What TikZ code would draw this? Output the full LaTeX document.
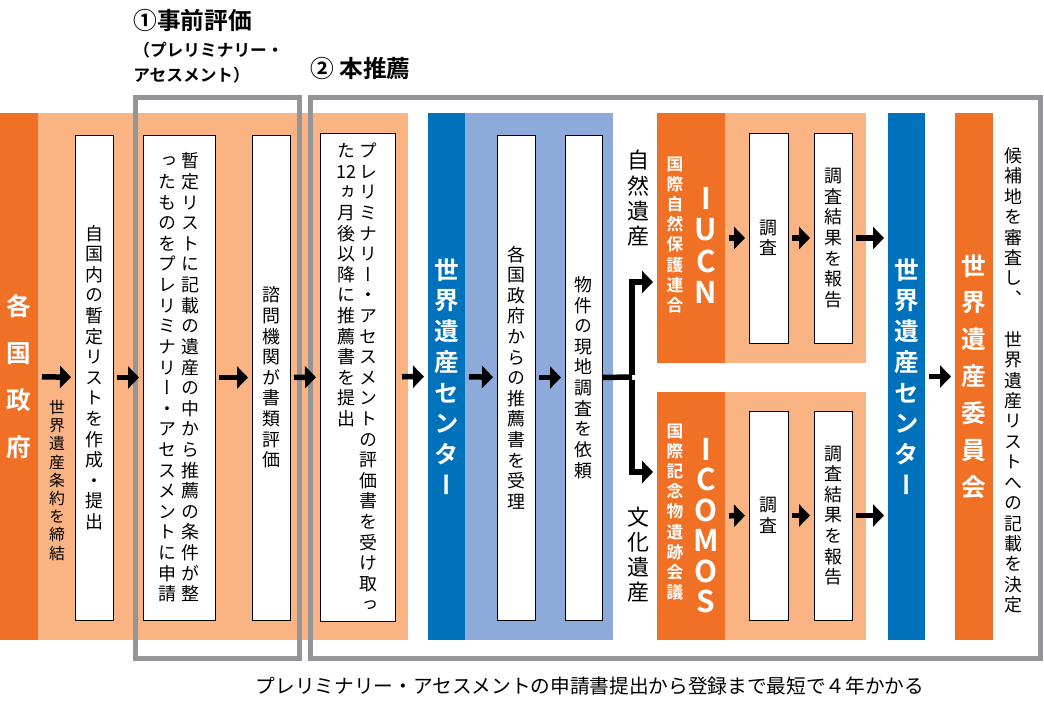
\documentclass[tikz,border=0pt]{standalone}
\usepackage{fontspec}
\usepackage{tikz}
\usetikzlibrary{arrows.meta}
\setmainfont{Noto Sans CJK JP}[BoldFont={Noto Sans CJK JP Bold}]
\newfontfamily\vjp[RawFeature=+vert]{Noto Sans CJK JP}
\newfontfamily\vjpb[RawFeature=+vert]{Noto Sans CJK JP Bold}
\definecolor{darkOrange}{HTML}{F07125}
\definecolor{lightOrange}{HTML}{FAB382}
\definecolor{darkBlue}{HTML}{0071BB}
\definecolor{lightBlue}{HTML}{8DAADA}
\definecolor{frameGray}{HTML}{939598}
\newlength{\vpitch}
\ExplSyntaxOn
\NewDocumentCommand{\vcol}{O{1.15em}m}{
  \vtop{\setlength{\vpitch}{#1}\baselineskip=\vpitch\lineskiplimit=-20pt\lineskip=0pt
    \tl_map_inline:nn{#2}{\hbox to 1.2em{\hss##1\hss}}}}
\ExplSyntaxOff
\newcommand{\twocol}[2]{\hbox{\vcol{#1}\kern0.05em\vcol{#2}}}
% block from (x1,y1) to (x2,y2), in pixels of the reference
\newcommand{\blk}[7]{\node[#6, minimum width={(#4-#2)*0.02cm}, minimum height={(#5-#3)*0.02cm}] (#1) at ({(#2+#4)/2},{(#3+#5)/2}) {#7};}

\begin{document}
\begin{tikzpicture}[x=0.02cm, y=-0.02cm]
  \tikzset{
    band/.style={inner sep=0pt, outer sep=0pt},
    wbox/.style={band, draw=black, line width=0.5pt, fill=white, font=\vjp\fontsize{10.2}{12}\selectfont},
    head/.style={band, text=white, font=\vjpb\fontsize{14}{16}\selectfont},
    arr/.style={line width=0.11cm, -{Triangle[length=0.22cm,width=0.44cm]}, shorten <=0.08cm, shorten >=0.08cm},
    frame/.style={draw=frameGray, line width=0.1cm},
    plain/.style={inner sep=0pt, font=\vjp\fontsize{10.2}{12}\selectfont},
    latin/.style={inner sep=0pt, text=white, font=\bfseries\fontsize{17}{18}\selectfont}
  }
  \useasboundingbox (0,0) rectangle (1044,700);
  % bands
  \blk{lo1}{38}{113}{408}{640}{band, fill=lightOrange}{}
  \blk{gov}{0}{113}{38}{640}{head, fill=darkOrange}{\vcol[1.9em]{各国政府}}
  \blk{lb}{465}{113}{613}{640}{band, fill=lightBlue}{}
  \blk{whc1}{428}{113}{465}{640}{head, fill=darkBlue}{\vcol[1.25em]{世界遺産センター}}
  \blk{lo2}{725}{113}{866}{363}{band, fill=lightOrange}{}
  \blk{lo3}{725}{392}{866}{640}{band, fill=lightOrange}{}
  \blk{iucn}{657}{113}{725}{363}{band, fill=darkOrange}{}
  \blk{icomos}{657}{392}{725}{640}{band, fill=darkOrange}{}
  \blk{whc2}{888}{113}{925}{640}{head, fill=darkBlue}{\vcol[1.25em]{世界遺産センター}}
  \blk{com}{955}{113}{993}{640}{head, fill=darkOrange}{\vcol[1.5em]{世界遺産委員会}}
  % white boxes
  \blk{list}{75}{135}{113}{620}{wbox}{\vcol{自国内の暫定リストを作成・提出}}
  \blk{apply}{143}{135}{215}{620}{wbox}{\twocol{ったものをプレリミナリー・アセスメントに申請}{暫定リストに記載の遺産の中から推薦の条件が整}}
  \blk{eval}{252}{135}{290}{620}{wbox}{\vcol{諮問機関が書類評価}}
  \blk{submit}{320}{133}{395}{621}{wbox}{\twocol{た{12}ヵ月後以降に推薦書を提出}{プレリミナリー・アセスメントの評価書を受け取っ}}
  \blk{receive}{497}{135}{535}{620}{wbox}{\vcol{各国政府からの推薦書を受理}}
  \blk{site}{565}{135}{602}{620}{wbox}{\vcol{物件の現地調査を依頼}}
  \blk{survA}{749}{133}{788}{343}{wbox}{\vcol{調査}}
  \blk{repA}{814}{133}{852}{343}{wbox}{\vcol{調査結果を報告}}
  \blk{survB}{749}{411}{788}{620}{wbox}{\vcol{調査}}
  \blk{repB}{814}{411}{852}{620}{wbox}{\vcol{調査結果を報告}}
  % texts
  \node[plain, anchor=north, font=\vjp\fontsize{9}{11}\selectfont] (treaty) at (57,400) {\vcol{世界遺産条約を締結}};
  \node[plain, anchor=north, text=white, font=\vjpb\fontsize{9.5}{11}\selectfont] (iucnJ) at (675,157) {\vcol[1.2em]{国際自然保護連合}};
  \node[latin, anchor=north] (iucnE) at (706,187) {\vcol[1.05em]{IUCN}};
  \node[plain, anchor=north, text=white, font=\vjpb\fontsize{9.5}{11}\selectfont] (icomosJ) at (675,424) {\vcol[1.2em]{国際記念物遺跡会議}};
  \node[latin, anchor=north] (icomosE) at (706,438) {\vcol[1.02em]{ICOMOS}};
  \node[plain, anchor=north, font=\vjp\fontsize{12.5}{14}\selectfont] (nat) at (638,150) {\vcol[1.15em]{自然遺産}};
  \node[plain, anchor=south, font=\vjp\fontsize{12.5}{14}\selectfont] (cult) at (638,603) {\vcol[1.15em]{文化遺産}};
  \node[plain, anchor=north] (decide) at (1013,147) {\vcol[1.14em]{候補地を審査し、　世界遺産リストへの記載を決定}};
  \node[anchor=west, inner sep=0pt, font=\bfseries\fontsize{13.5}{15}\selectfont] (stage1) at (133,20) {①事前評価};
  \node[anchor=north west, inner sep=0pt, align=left, font=\bfseries\fontsize{9.5}{14}\selectfont] (stage1sub) at (133,42) {（プレリミナリー・\\アセスメント）};
  \node[anchor=west, inner sep=0pt, font=\bfseries\fontsize{13.5}{15}\selectfont] (stage2) at (310,68) {② 本推薦};
  \node[inner sep=0pt, font=\fontsize{11.2}{13}\selectfont] (note) at (590,686) {プレリミナリー・アセスメントの申請書提出から登録まで最短で４年かかる};
  % frames
  \draw[frame] (135,97) rectangle (299,658);
  \draw[frame] (310,97) rectangle (1040,658);
  % arrows
  \draw[arr] (gov) -- (list);
  \draw[arr] (list) -- (apply);
  \draw[arr] (apply) -- (eval);
  \draw[arr] (eval) -- (submit);
  \draw[arr, shorten <=0.14cm] (submit) -- (whc1);
  \draw[arr] (whc1) -- (receive);
  \draw[arr] (receive) -- (site);
  \coordinate (br) at (632,377);
  \draw[line width=0.11cm] (site.east) -- (br);
  \draw[arr, shorten <=0pt] ([yshift=0.05cm]br) |- ([yshift=1.62cm]iucn.south west);
  \draw[arr, shorten <=0pt] ([yshift=-0.05cm]br) |- ([yshift=-1.6cm]icomos.north west);
  \draw[arr] (iucn) -- (survA);
  \draw[arr] (survA) -- (repA);
  \draw[arr] (repA.east) -- (repA.east -| whc2.west);
  \draw[arr] (icomos) -- (survB);
  \draw[arr] (survB) -- (repB);
  \draw[arr] (repB.east) -- (repB.east -| whc2.west);
  \draw[arr] (whc2) -- (com);
\end{tikzpicture}
\end{document}
